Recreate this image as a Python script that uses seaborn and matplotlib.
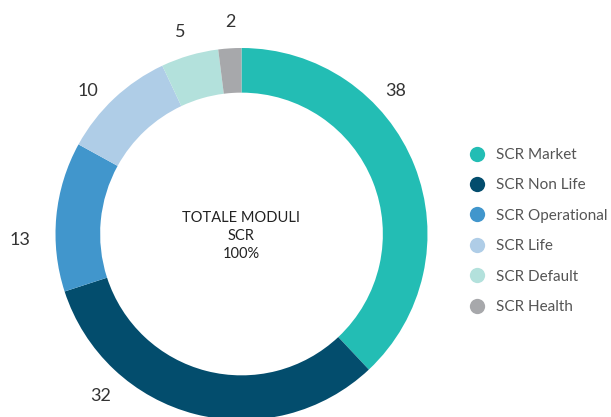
import matplotlib
matplotlib.use("Agg")
import numpy as np
import matplotlib.pyplot as plt
from matplotlib.lines import Line2D
import seaborn as sns

# dati
categorie = ["SCR Market", "SCR Non Life", "SCR Operational", "SCR Life", "SCR Default", "SCR Health"]
valori = [38, 32, 13, 10, 5, 2]
colori = ["#23BDB4", "#034D6D", "#4196CC", "#AFCDE7", "#B3E1DC", "#A7A8AB"]

# posizione etichette (angolo in gradi, distanza dal centro in raggi)
etichette_ang = [43, -131, 181.5, 137, 107, 93]
etichette_rad = [1.13, 1.155, 1.19, 1.13, 1.135, 1.14]

sns.set_theme(style="white")
plt.rcParams['font.family'] = ['Lato', 'DejaVu Sans']

W, H = 611, 417
cx, cy, R = 241.5, 234, 186  # centro e raggio in pixel

fig = plt.figure(figsize=(W / 100, H / 100), dpi=100)
ax = fig.add_axes([0, 0, 1, 1])

ax.pie(valori, colors=colori, startangle=90, counterclock=False, radius=1,
       wedgeprops=dict(width=0.24, edgecolor="none"))

for v, a, r in zip(valori, etichette_ang, etichette_rad):
    t = np.deg2rad(a)
    ax.text(r * np.cos(t), r * np.sin(t), str(v), ha="center", va="center",
            fontsize=13, color="#333333")

ax.text(0, -0.012, "TOTALE MODULI\nSCR\n100%", ha="center", va="center",
        fontsize=10.5, color="#222222", linespacing=1.35)

ax.set_xlim(-cx / R, (W - cx) / R)
ax.set_ylim(-(H - cy) / R, cy / R)
ax.set_aspect("equal")
ax.axis("off")

# legenda
handles = [Line2D([0], [0], marker="o", linestyle="none", markersize=11,
                  markerfacecolor=c, markeredgecolor="none") for c in colori]
leg = fig.legend(handles, categorie, loc="center left", bbox_to_anchor=(469 / W, 1 - 231 / H),
                 frameon=False, fontsize=11, labelspacing=1.07, handletextpad=0.75,
                 borderpad=0, borderaxespad=0, handlelength=1.0)
for txt in leg.get_texts():
    txt.set_color("#555555")

plt.savefig("out.png", dpi=100)
